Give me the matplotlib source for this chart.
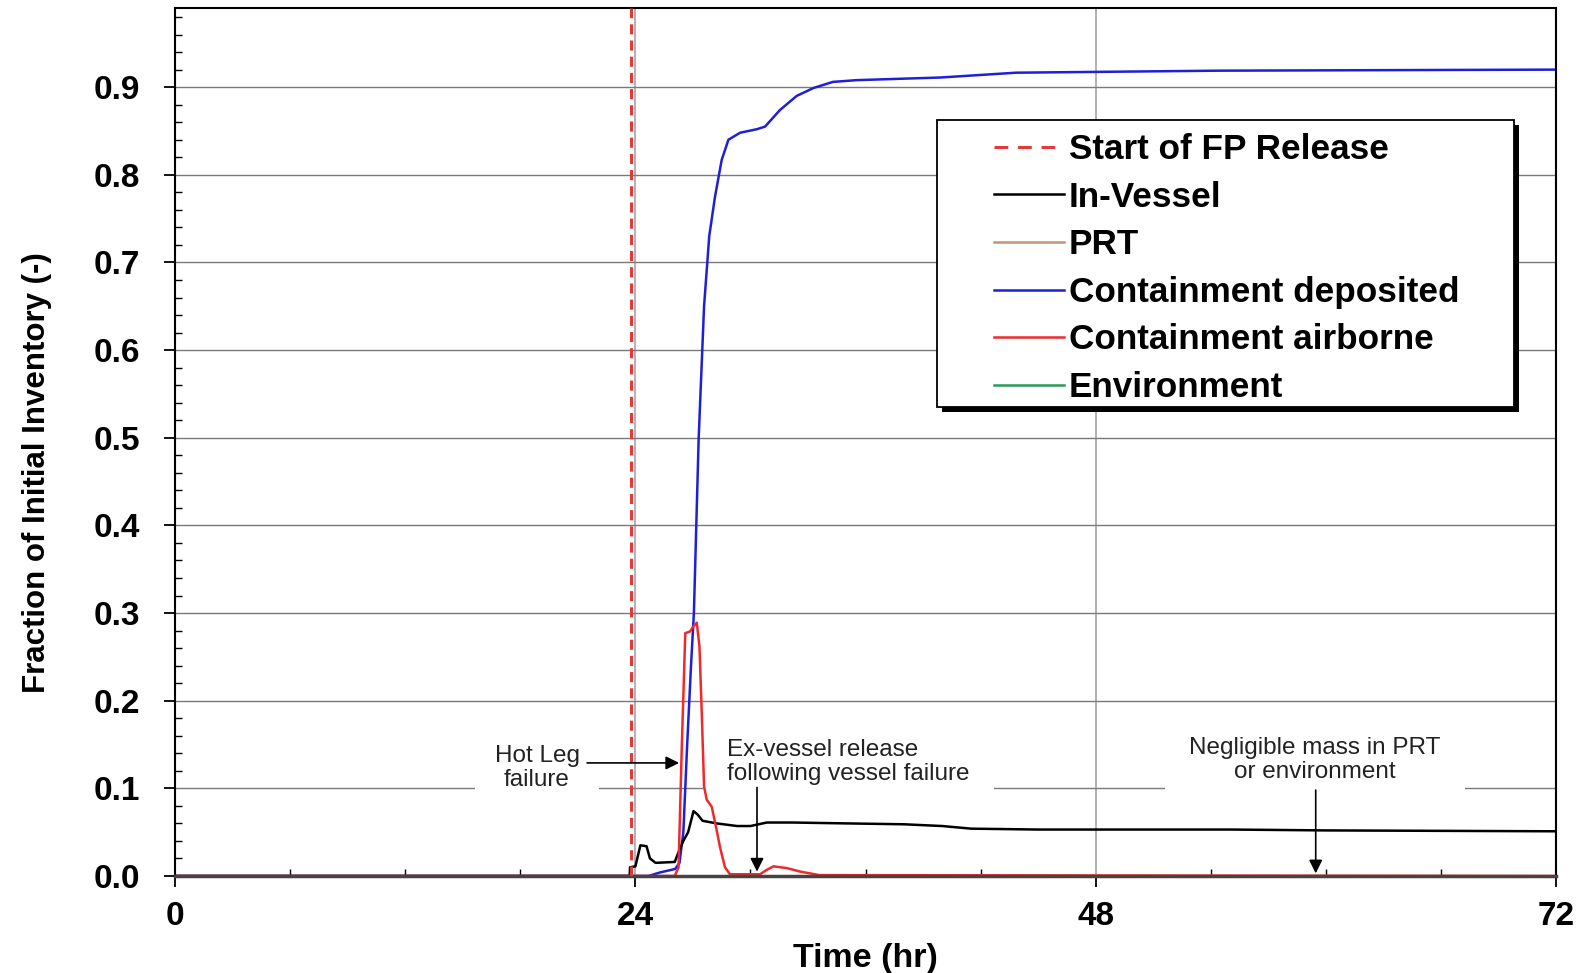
import matplotlib
matplotlib.use("Agg")
import matplotlib.pyplot as plt
from matplotlib.patches import Rectangle
from matplotlib.lines import Line2D
from matplotlib.ticker import MultipleLocator, FormatStrFormatter

plt.rcParams['font.family'] = ['Liberation Sans', 'DejaVu Sans']

# values (time in hr, fraction of initial inventory)
release_start = 23.75

t_vessel = [0, 23.70, 23.72, 24.0, 24.26, 24.58, 24.76, 25.05, 26.05, 26.3, 26.5, 26.75,
            27.03, 27.25, 27.5, 28.24, 29.3, 30.0, 30.85, 32.2, 35.0, 38.0, 40.0, 41.5,
            45.0, 55.0, 60.0, 72.0]
in_vessel = [0, 0, 0.010, 0.011, 0.035, 0.034, 0.020, 0.015, 0.016, 0.030, 0.040, 0.050,
             0.074, 0.070, 0.063, 0.060, 0.057, 0.057, 0.061, 0.061, 0.060, 0.059, 0.057, 0.054,
             0.053, 0.053, 0.052, 0.051]

t_dep = [0, 24.68, 25.28, 26.07, 26.3, 26.5, 26.7, 26.9, 27.05, 27.3, 27.58, 27.85, 28.15,
         28.5, 28.85, 29.46, 30.33, 30.76, 31.54, 32.41, 33.28, 34.3, 35.54, 39.9, 43.85,
         54.4, 72.0]
cont_dep = [0, 0, 0.004, 0.008, 0.015, 0.05, 0.15, 0.24, 0.30, 0.50, 0.65, 0.73, 0.775,
            0.817, 0.840, 0.848, 0.852, 0.855, 0.874, 0.890, 0.899, 0.906, 0.908, 0.911, 0.9165,
            0.9188, 0.920]

t_air = [0, 26.05, 26.25, 26.42, 26.6, 26.85, 27.03, 27.2, 27.34, 27.46, 27.58, 27.72,
         27.98, 28.24, 28.41, 28.67, 28.93, 30.15, 30.5, 30.85, 31.2, 31.9, 32.6, 33.6, 72.0]
cont_air = [0, 0, 0.010, 0.148, 0.277, 0.279, 0.285, 0.289, 0.262, 0.186, 0.102, 0.087,
            0.079, 0.052, 0.033, 0.010, 0.002, 0.002, 0.002, 0.007, 0.011, 0.009, 0.005, 0.001, 0]

t_zero = [0, 72.0]
prt = [0, 0]
environment = [0, 0]

fig = plt.figure(figsize=(15.93, 9.73), dpi=100)
ax = fig.add_axes([0.1099, 0.0997, 0.8669, 0.8918])

ax.axvline(release_start, color='#e03a3a', lw=2.2, ls=(0, (3.3, 2)), zorder=2.6)
ax.plot(t_vessel, in_vessel, color='black', lw=1.8, zorder=2.3)
ax.plot(t_zero, prt, color='#c49478', lw=1.8, zorder=2.1)
ax.plot(t_dep, cont_dep, color='#1f1fd6', lw=1.8, zorder=2.2)
ax.plot(t_air, cont_air, color='#ee2a2a', lw=1.8, zorder=2.4)
ax.plot(t_zero, environment, color='#2a9a5a', lw=1.8, zorder=2.1)

ax.set_xlim(0, 72)
ax.set_ylim(0, 0.99)
ax.set_xticks([0, 24, 48, 72])
ax.set_yticks([0, 0.1, 0.2, 0.3, 0.4, 0.5, 0.6, 0.7, 0.8, 0.9])
ax.xaxis.set_minor_locator(MultipleLocator(6))
ax.yaxis.set_minor_locator(MultipleLocator(0.02))
ax.yaxis.set_major_formatter(FormatStrFormatter('%.1f'))
ax.tick_params(which='major', direction='out', length=8, width=1.3)
ax.tick_params(which='minor', direction='in', length=5, width=1)
ax.tick_params(axis='y', which='major', pad=17, labelsize=24)
ax.tick_params(axis='x', which='major', pad=10, labelsize=24)
for lbl in ax.get_xticklabels() + ax.get_yticklabels():
    lbl.set_fontweight('bold')

ax.set_axisbelow(True)
ax.yaxis.grid(True, color='#7a7a7a', lw=1)
ax.xaxis.grid(True, color='#b4b4b4', lw=1.5)
for s in ax.spines.values():
    s.set_linewidth(1.5)
ax.spines['bottom'].set_linewidth(2.5)
ax.spines['bottom'].set_color('#444444')

ax.set_xlabel('Time (hr)', fontsize=24.5, fontweight='bold', labelpad=8)
ax.set_ylabel('Fraction of Initial Inventory (-)', fontsize=22.5, fontweight='bold')
ax.yaxis.set_label_coords(-0.089, 0.4648)

# annotations
note = dict(fontsize=17.5, color='#222222', linespacing=1.12, zorder=1.5)
arrow = dict(arrowstyle='-|>', color='black', lw=1.2, mutation_scale=20, shrinkA=0, shrinkB=0)
ax.text(18.87, 0.123, 'Hot Leg\nfailure', ha='center', va='center',
        bbox=dict(boxstyle='square,pad=0.8', fc='white', ec='none'), **note)
ax.annotate('', xy=(26.28, 0.129), xytext=(21.48, 0.129), arrowprops=arrow, zorder=3)
ax.text(28.8, 0.1296, 'Ex-vessel release\nfollowing vessel failure', ha='left', va='center',
        multialignment='left', bbox=dict(boxstyle='square,pad=1.0', fc='white', ec='none'), **note)
ax.annotate('', xy=(30.34, 0.005), xytext=(30.34, 0.101), arrowprops=arrow, zorder=3)
ax.text(59.44, 0.1324, 'Negligible mass in PRT\nor environment', ha='center', va='center',
        bbox=dict(boxstyle='square,pad=1.0', fc='white', ec='none'), **note)
ax.annotate('', xy=(59.47, 0.003), xytext=(59.47, 0.098), arrowprops=arrow, zorder=3)

# legend with a hand-drawn frame and hard shadow
bx0, by0, bx1, by1 = 0.5515, 0.54, 0.9694, 0.8708
ax.add_patch(Rectangle((bx0 + 0.0036, by0 - 0.0058), bx1 - bx0, by1 - by0, transform=ax.transAxes,
                       fc='black', ec='none', zorder=4))
ax.add_patch(Rectangle((bx0, by0), bx1 - bx0, by1 - by0, transform=ax.transAxes,
                       fc='white', ec='black', lw=1.3, zorder=4.5))
labels = ['Start of FP Release', 'In-Vessel', 'PRT', 'Containment deposited',
          'Containment airborne', 'Environment']
handles = [Line2D([], [], color='#e03a3a', lw=2.2, ls=(0, (4.5, 3.2))),
           Line2D([], [], color='black', lw=1.8),
           Line2D([], [], color='#c49478', lw=1.8),
           Line2D([], [], color='#1f1fd6', lw=1.8),
           Line2D([], [], color='#ee2a2a', lw=1.8),
           Line2D([], [], color='#2a9a5a', lw=1.8)]
leg = ax.legend(handles, labels, loc='center left', bbox_to_anchor=(0.5927, 0.700), frameon=False,
                borderpad=0, borderaxespad=0, handlelength=2.0, handletextpad=0.15,
                labelspacing=0.415, prop={'weight': 'bold', 'size': 25.3})
leg.set_zorder(6)

fig.savefig('out.png', dpi=100)
